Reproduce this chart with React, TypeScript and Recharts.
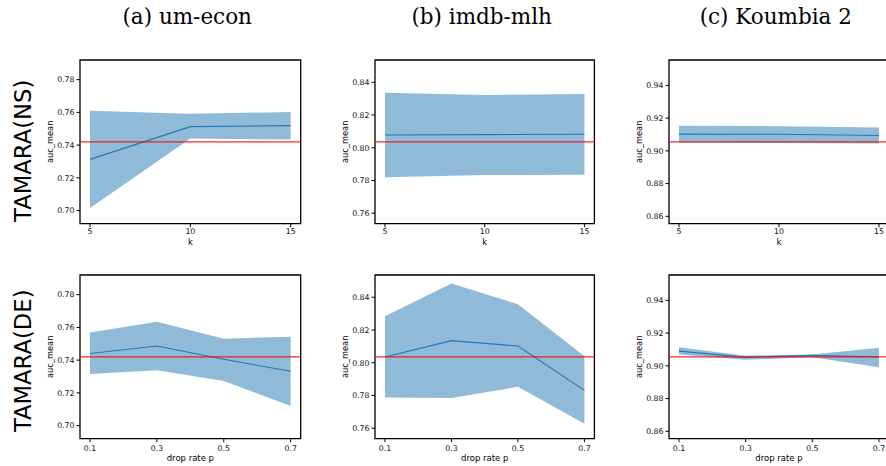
import React from 'react';
import { ComposedChart, Line, Area, XAxis, YAxis, ReferenceLine, ReferenceArea } from 'recharts';

// ---- data ----
const datasetTitles = ['(a) um-econ', '(b) imdb-mlh', '(c) Koumbia 2'];
const rowLabels = ['TAMARA(NS)', 'TAMARA(DE)'];
const xLabels = ['k', 'drop rate p'];

const kValues = [5, 10, 15];
const kTicks = [5, 10, 15];
const dropRates = [0.1, 0.3, 0.5, 0.7];
const dropTicks = [0.1, 0.3, 0.5, 0.7];

const baselineUmEcon = 0.742;
const baselineImdb = 0.8036;
const baselineKoumbia = 0.9055;

const yTicksUmEcon = [0.7, 0.72, 0.74, 0.76, 0.78];
const yTicksImdb = [0.76, 0.78, 0.8, 0.82, 0.84];
const yTicksKoumbia = [0.86, 0.88, 0.9, 0.92, 0.94];

// TAMARA(NS)
const nsUmEconMean = [0.7313, 0.7513, 0.7519];
const nsUmEconLow = [0.7016, 0.744, 0.7434];
const nsUmEconHigh = [0.761, 0.7592, 0.7602];

const nsImdbMean = [0.8078, 0.808, 0.8082];
const nsImdbLow = [0.7819, 0.7833, 0.7835];
const nsImdbHigh = [0.8336, 0.8322, 0.8328];

const nsKoumbiaMean = [0.9102, 0.9101, 0.9094];
const nsKoumbiaLow = [0.9051, 0.9048, 0.9045];
const nsKoumbiaHigh = [0.9153, 0.9151, 0.9143];

// TAMARA(DE)
const deUmEconMean = [0.744, 0.7486, 0.7405, 0.7332];
const deUmEconLow = [0.7315, 0.7338, 0.7272, 0.712];
const deUmEconHigh = [0.7568, 0.7635, 0.7531, 0.7543];

const deImdbMean = [0.8035, 0.8135, 0.8102, 0.7831];
const deImdbLow = [0.7788, 0.7784, 0.7853, 0.7627];
const deImdbHigh = [0.8284, 0.8484, 0.8357, 0.8039];

const deKoumbiaMean = [0.909, 0.9052, 0.9064, 0.9054];
const deKoumbiaLow = [0.907, 0.9037, 0.9052, 0.8991];
const deKoumbiaHigh = [0.9113, 0.9062, 0.907, 0.911];

// ---- layout (styles only) ----
const colLeft = [80.3, 375.3, 669.3];
const colWidth = [220.7, 219.4, 220];
const rowTop = [60, 274.7];
const plotHeight = 163.7;
const Y_AXIS_W = 55;
const M_TOP = 5;
const M_RIGHT = 5;
const X_AXIS_H = 30;

const BLUE = '#1f77b4';
const FONT = '"DejaVu Sans", sans-serif';

function build(xs: number[], mean: number[], low: number[], high: number[]) {
  return xs.map((x, i) => ({ x, mean: mean[i], band: [low[i], high[i]] }));
}

const rows = [
  {
    xs: kValues,
    ticks: kTicks,
    xDomain: [4.5, 15.5],
    tickMargin: 1.5,
    labelDy: 18,
    fmt: (v: number) => String(v),
    series: [
      build(kValues, nsUmEconMean, nsUmEconLow, nsUmEconHigh),
      build(kValues, nsImdbMean, nsImdbLow, nsImdbHigh),
      build(kValues, nsKoumbiaMean, nsKoumbiaLow, nsKoumbiaHigh),
    ],
  },
  {
    xs: dropRates,
    ticks: dropTicks,
    xDomain: [0.07, 0.73],
    tickMargin: 3.5,
    labelDy: 19,
    fmt: (v: number) => v.toFixed(1),
    series: [
      build(dropRates, deUmEconMean, deUmEconLow, deUmEconHigh),
      build(dropRates, deImdbMean, deImdbLow, deImdbHigh),
      build(dropRates, deKoumbiaMean, deKoumbiaLow, deKoumbiaHigh),
    ],
  },
];

const cols = [
  { base: baselineUmEcon, yTicks: yTicksUmEcon },
  { base: baselineImdb, yTicks: yTicksImdb },
  { base: baselineKoumbia, yTicks: yTicksKoumbia },
];

function Panel({ r, c }: { r: number; c: number }) {
  const row = rows[r];
  const col = cols[c];
  const data = row.series[c];
  const yDomain = [col.base - 0.05, col.base + 0.05];
  const w = Y_AXIS_W + colWidth[c] + M_RIGHT;
  const h = M_TOP + plotHeight + X_AXIS_H;
  const yLabel = (props: any) => {
    const vb = props.viewBox || {};
    const x = vb.x + vb.width - 30.5;
    const y = vb.y + vb.height / 2;
    return (
      <text x={x} y={y} transform={`rotate(-90 ${x} ${y})`} textAnchor="middle" dominantBaseline="central"
        fontSize={8.3} fontFamily={FONT} fill="#000">auc_mean</text>
    );
  };
  const xLabel = (props: any) => {
    const vb = props.viewBox || {};
    const x = vb.x + vb.width / 2;
    const y = vb.y + row.labelDy;
    return (
      <text x={x} y={y} textAnchor="middle" dominantBaseline="central" fontSize={8.5} fontFamily={FONT} fill="#000">
        {xLabels[r]}
      </text>
    );
  };
  return (
    <div style={{ position: 'absolute', left: colLeft[c] - Y_AXIS_W, top: rowTop[r] - M_TOP }}>
      <ComposedChart width={w} height={h} data={data} margin={{ top: M_TOP, right: M_RIGHT, left: 0, bottom: 0 }}>
        <XAxis
          dataKey="x"
          type="number"
          domain={row.xDomain}
          allowDataOverflow
          ticks={row.ticks}
          tickFormatter={row.fmt}
          height={X_AXIS_H}
          axisLine={false}
          tickSize={3.5}
          tickMargin={row.tickMargin}
          tickLine={{ stroke: '#000' }}
          tick={{ fontSize: 7.8, fontFamily: FONT, fill: '#111' }}
          label={{ value: xLabels[r], content: xLabel }}
        />
        <YAxis
          type="number"
          domain={yDomain}
          allowDataOverflow
          ticks={col.yTicks}
          tickFormatter={(v: number) => v.toFixed(2)}
          width={Y_AXIS_W}
          axisLine={false}
          tickSize={3.5}
          tickMargin={2}
          tickLine={{ stroke: '#000' }}
          tick={{ fontSize: 7.8, fontFamily: FONT, fill: '#111' }}
          label={{ value: 'auc_mean', content: yLabel }}
        />
        <Area
          type="linear"
          dataKey="band"
          stroke="none"
          fill={BLUE}
          fillOpacity={0.5}
          isAnimationActive={false}
          activeDot={false}
        />
        <Line
          type="linear"
          dataKey="mean"
          stroke={BLUE}
          strokeWidth={1.1}
          dot={false}
          activeDot={false}
          isAnimationActive={false}
        />
        <ReferenceLine y={col.base} stroke="#ff0000" strokeOpacity={0.85} strokeWidth={1.3} ifOverflow="visible" />
        <ReferenceArea
          x1={row.xDomain[0]}
          x2={row.xDomain[1]}
          y1={yDomain[0]}
          y2={yDomain[1]}
          fill="none"
          fillOpacity={0}
          stroke="#000"
          strokeWidth={1.3}
          ifOverflow="visible"
        />
      </ComposedChart>
    </div>
  );
}

const titleX = [187.2, 481.7, 775.8];
const rowLabelY = [150.8, 360.8];

export default function App() {
  return (
    <div style={{ position: 'absolute', left: 0, top: 0, width: 886, height: 466, background: '#fff', overflow: 'hidden' }}>
      {[0, 1].map((r) => [0, 1, 2].map((c) => <Panel key={`${r}-${c}`} r={r} c={c} />))}
      <svg width={886} height={466} style={{ position: 'absolute', left: 0, top: 0, pointerEvents: 'none' }}>
        {datasetTitles.map((t, i) => (
          <text key={t} x={titleX[i]} y={23.5} textAnchor="middle" fontSize={21.5} fontFamily='"DejaVu Serif", serif' fill="#000">
            {t}
          </text>
        ))}
        {rowLabels.map((t, i) => (
          <text key={t} x={0} y={0} transform={`translate(30.5 ${rowLabelY[i]}) rotate(-90)`} textAnchor="middle"
            fontSize={22.7} fontFamily={FONT} fill="#000">
            {t}
          </text>
        ))}
      </svg>
    </div>
  );
}
